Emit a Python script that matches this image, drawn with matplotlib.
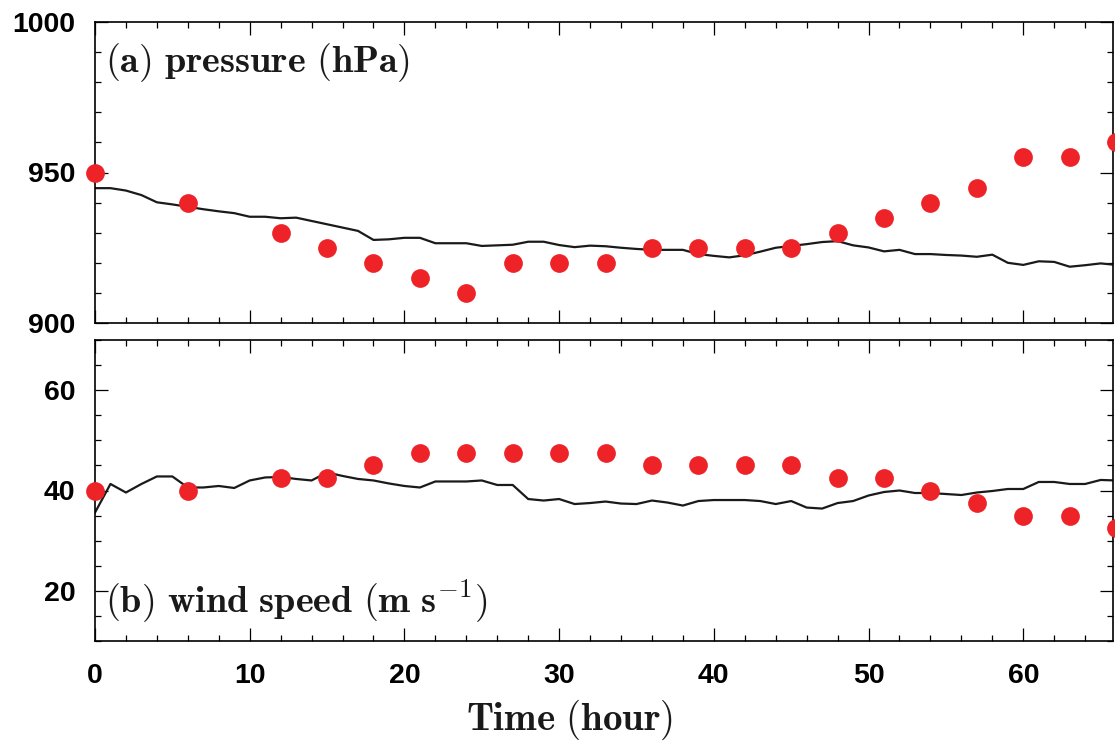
import matplotlib
matplotlib.use("Agg")
import matplotlib.pyplot as plt
from matplotlib.ticker import MultipleLocator

plt.rcParams['mathtext.fontset'] = 'cm'

# observed (dots), every 3 h
obs_hours = [0, 6, 12, 15, 18, 21, 24, 27, 30, 33, 36, 39, 42, 45, 48, 51, 54, 57, 60, 63, 66]
obs_pres = [950, 940, 930, 925, 920, 915, 910, 920, 920, 920, 925, 925, 925, 925,
            930, 935, 940, 945, 955, 955, 960]
obs_wind = [40, 40, 42.5, 42.5, 45, 47.5, 47.5, 47.5, 47.5, 47.5, 45, 45, 45, 45,
            42.5, 42.5, 40, 37.5, 35, 35, 32.5]

# model (line), hourly
mod_hours = list(range(0, 67))
mod_pres = [944.8, 944.8, 944.0, 942.5, 940.1, 939.4, 938.6, 937.8, 937.1, 936.5,
            935.3, 935.3, 934.8, 935.0, 933.9, 932.8, 931.7, 930.6, 927.6, 927.8,
            928.3, 928.3, 926.5, 926.5, 926.5, 925.6, 925.8, 926.0, 927.0, 927.0,
            925.9, 925.2, 925.7, 925.5, 925.0, 924.6, 924.3, 924.3, 924.3, 922.9,
            922.3, 921.8, 922.5, 923.7, 925.0, 925.6, 926.2, 926.9, 927.2, 925.8,
            925.1, 923.8, 924.3, 922.9, 922.9, 922.6, 922.4, 922.0, 922.7, 920.0,
            919.3, 920.5, 920.3, 918.7, 919.2, 919.8, 919.3]
mod_wind = [35.6, 41.3, 39.6, 41.3, 42.8, 42.8, 40.6, 40.6, 40.9, 40.5,
            42.0, 42.6, 42.7, 42.3, 42.0, 43.6, 42.9, 42.3, 42.0, 41.4,
            40.9, 40.6, 41.8, 41.8, 41.8, 42.0, 41.1, 41.1, 38.3, 38.0,
            38.3, 37.3, 37.5, 37.8, 37.4, 37.3, 38.0, 37.6, 37.0, 37.9,
            38.1, 38.1, 38.1, 37.9, 37.3, 37.9, 36.6, 36.4, 37.5, 37.9,
            39.0, 39.7, 40.0, 39.5, 39.5, 39.3, 39.1, 39.6, 39.9, 40.3,
            40.3, 41.7, 41.7, 41.3, 41.3, 42.1, 42.0]

red = '#ee2328'
fig = plt.figure(figsize=(11.15, 7.43), dpi=100)
ax1 = fig.add_axes([95/1115, 1 - 323/743, 1018/1115, 301/743])
ax2 = fig.add_axes([95/1115, 1 - 641/743, 1018/1115, 301/743])

panels = [
    (ax1, mod_pres, obs_pres, (900, 1000), 50, 10, r'$\mathbf{(a)\ pressure\ (hPa)}$', 0.865),
    (ax2, mod_wind, obs_wind, (10, 70), 20, 5, r'$\mathbf{(b)\ wind\ speed\ (m\ s^{-1})}$', 0.13),
]
for ax, mod, obs, ylim, ymaj, ymin, label, ly in panels:
    ax.plot(mod_hours, mod, color='#1a1a1a', lw=1.6, zorder=2)
    ax.plot(obs_hours, obs, 'o', color=red, ms=13.5, mec='none', zorder=3, clip_on=False)
    ax.set_xlim(0, 65.8)
    ax.set_ylim(*ylim)
    ax.xaxis.set_major_locator(MultipleLocator(10))
    ax.xaxis.set_minor_locator(MultipleLocator(2))
    ax.yaxis.set_major_locator(MultipleLocator(ymaj))
    ax.yaxis.set_minor_locator(MultipleLocator(ymin))
    ax.tick_params(which='both', direction='in', top=True, right=True, width=0.9)
    ax.tick_params(which='major', length=9.5)
    ax.tick_params(which='minor', length=4)
    ax.tick_params(axis='y', pad=14)
    ax.tick_params(axis='x', pad=16)
    for lab in ax.get_xticklabels() + ax.get_yticklabels():
        lab.set_fontfamily('Liberation Sans')
        lab.set_fontweight('bold')
        lab.set_fontsize(20.5)
    for s in ax.spines.values():
        s.set_linewidth(1.2)
    ax.text(0.01, ly, label, transform=ax.transAxes, fontsize=27.5,
            ha='left', va='center', color='#1a1a1a')

ax1.tick_params(axis='x', labelbottom=False)
fig.text(570/1115, 1 - 720/743, r'$\mathbf{Time\ (hour)}$', fontsize=28,
         ha='center', va='center', color='#1a1a1a')

fig.savefig('out.png', dpi=100)
